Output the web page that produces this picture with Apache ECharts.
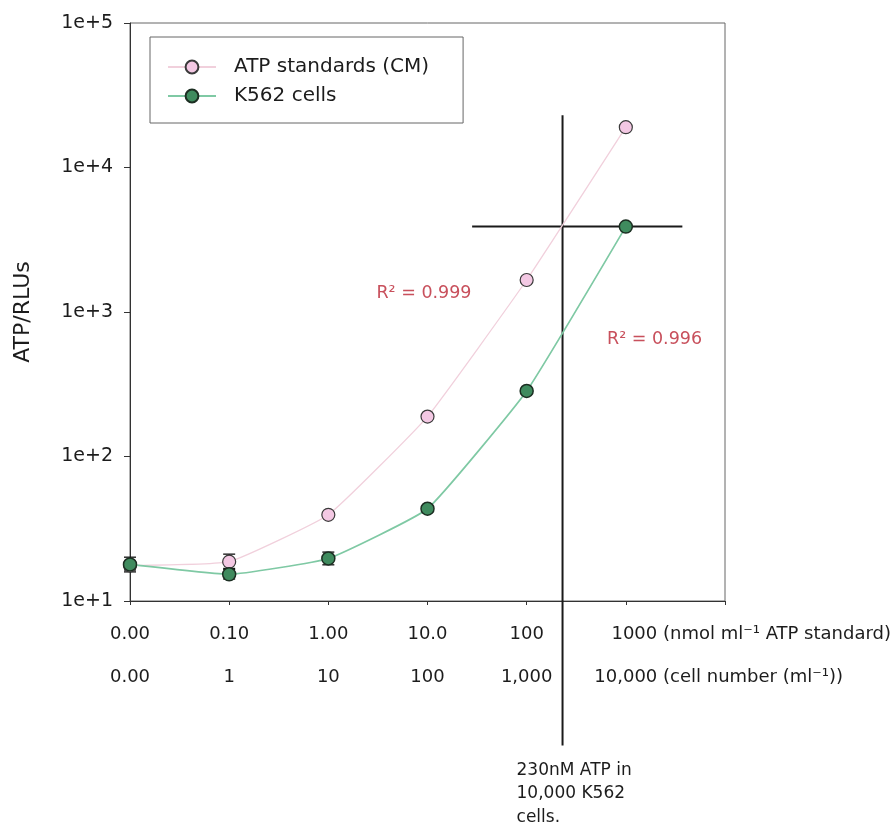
<!DOCTYPE html>
<html>
<head>
<meta charset="utf-8">
<script src="https://cdn.jsdelivr.net/npm/echarts@6/dist/echarts.min.js"></script>
<style>
  html, body { margin: 0; padding: 0; background: #ffffff; }
  #chart { width: 895px; height: 825px; }
</style>
</head>
<body>
<div id="chart"></div>
<script>
// Category labels for the two x scales (ATP standard concentration / cell number)
const atpLabels = ['0.00', '0.10', '1.00', '10.0', '100', '1000'];
const cellLabels = ['0.00', '1', '10', '100', '1,000', '10,000'];
const atpUnit = ' (nmol ml\u207B\u00B9 ATP standard)';
const cellUnit = ' (cell number (ml\u207B\u00B9))';
const yTickLabels = ['1e+1', '1e+2', '1e+3', '1e+4', '1e+5'];

// Luminescence readings (ATP/RLUs)
const atpStandards = [17.6, 18.7, 39.5, 189, 1665, 19000];
const atpStandardsErr = [[16.4, 18.9], [16.5, 21.1], [38.3, 40.8], [183, 195], [1610, 1720], [18300, 19700]];
const k562Cells = [17.9, 15.3, 19.7, 43.5, 284, 3900];
const k562CellsErr = [[15.9, 20.1], [14.2, 16.8], [17.8, 21.8], [41.6, 45.4], [273, 295], [3760, 4040]];

// Read-off for 10,000 K562 cells: 230 nM ATP
const atpInCells = 230;
const crossX = 4 + Math.log10(atpInCells / 100);   // between the 100 and 1000 ticks
const crossSpanY = [1, 23000];
const crossSpanX = [3.45, 5.57];

const r2Values = ['0.999', '0.996'];

const FONT = 'DejaVu Sans';
const INK = '#1c1c1c';

// width of the unit suffix, so the number itself sits on its tick
const ctx = document.createElement('canvas').getContext('2d');
function textWidth(s, size) { ctx.font = size + 'px "' + FONT + '"'; return ctx.measureText(s).width; }
const atpPad = textWidth(atpUnit, 18) + 17;
const cellPad = textWidth(cellUnit, 18);

const richBase = {
  padA: { width: atpPad },
  padC: { width: cellPad }
};

function atpFormatter(v) {
  const i = Math.round(v);
  if (Math.abs(i - v) > 1e-6 || i >= atpLabels.length) return '';
  if (i === atpLabels.length - 1) return '{padA| }' + atpLabels[i] + atpUnit;
  return atpLabels[i];
}
function cellFormatter(v) {
  const i = Math.round(v);
  if (Math.abs(i - v) > 1e-6 || i >= cellLabels.length) return '';
  if (i === cellLabels.length - 1) return '{padC| }' + cellLabels[i] + cellUnit;
  return cellLabels[i];
}

function errorData(errs) { return errs.map((e, i) => [i, e[0], e[1]]); }

function renderErrorBar(params, api) {
  const x = api.value(0);
  const lo = api.coord([x, api.value(1)]);
  const hi = api.coord([x, api.value(2)]);
  const w = 6;
  const st = { stroke: '#111', lineWidth: 1.3 };
  return {
    type: 'group',
    children: [
      { type: 'line', shape: { x1: lo[0], y1: lo[1], x2: hi[0], y2: hi[1] }, style: st },
      { type: 'line', shape: { x1: lo[0] - w, y1: lo[1], x2: lo[0] + w, y2: lo[1] }, style: st },
      { type: 'line', shape: { x1: hi[0] - w, y1: hi[1], x2: hi[0] + w, y2: hi[1] }, style: st }
    ]
  };
}

function renderCross(params, api) {
  const x = api.value(0);
  const y = api.value(1);
  const vTop = api.coord([x, crossSpanY[1]]);
  const vBot = api.coord([x, crossSpanY[0]]);
  const hL = api.coord([crossSpanX[0], y]);
  const hR = api.coord([crossSpanX[1], y]);
  const st = { stroke: '#1a1a1a', lineWidth: 2 };
  return {
    type: 'group',
    children: [
      { type: 'line', shape: { x1: vTop[0], y1: vTop[1], x2: vBot[0], y2: vBot[1] }, style: st },
      { type: 'line', shape: { x1: hL[0], y1: hL[1], x2: hR[0], y2: hR[1] }, style: st },
      {
        type: 'text', x: vBot[0] - 46, y: vBot[1] + 13,
        style: {
          text: atpInCells + 'nM ATP in\n' + cellLabels[cellLabels.length - 1] + ' K562\ncells.',
          fontSize: 17, fontFamily: FONT, fill: INK, lineHeight: 23.5,
          align: 'left', verticalAlign: 'top'
        }
      }
    ]
  };
}

function renderR2(params, api) {
  const p = api.coord([api.value(0), api.value(1)]);
  return {
    type: 'text', x: p[0], y: p[1],
    style: {
      text: 'R\u00B2 = ' + r2Values[params.dataIndex],
      fontSize: 17.5, fontFamily: FONT, fill: '#c8505c',
      align: 'left', verticalAlign: 'middle'
    }
  };
}

const chart = echarts.init(document.getElementById('chart'), null, { renderer: 'canvas' });

chart.setOption({
  animation: false,
  backgroundColor: '#ffffff',
  grid: {
    left: 130, right: 170, top: 23, bottom: 224,
    show: true, borderColor: '#666', borderWidth: 1,
    outerBoundsMode: 'none'
  },
  legend: {
    orient: 'vertical',
    left: 150, top: 37,
    padding: [20, 34, 17, 17],
    itemGap: 9,
    itemWidth: 48, itemHeight: 16,
    borderColor: '#666', borderWidth: 1,
    backgroundColor: '#ffffff',
    selectedMode: false,
    data: ['ATP standards (CM)', 'K562 cells'],
    textStyle: { fontSize: 20, fontFamily: FONT, color: INK, lineHeight: 20, padding: [0, 0, 0, 13] }
  },
  xAxis: [
    {
      type: 'value', min: 0, max: 6, interval: 1, position: 'bottom',
      axisLine: { show: true, onZero: false, lineStyle: { color: '#333', width: 1 } },
      axisTick: { show: true, length: 4, lineStyle: { color: '#333' } },
      splitLine: { show: false },
      axisLabel: {
        margin: 24, fontSize: 18, fontFamily: FONT, color: INK,
        formatter: atpFormatter, rich: richBase
      }
    },
    {
      type: 'value', min: 0, max: 6, interval: 1, position: 'bottom', offset: 43,
      axisLine: { show: false }, axisTick: { show: false }, splitLine: { show: false },
      axisLabel: {
        margin: 24, fontSize: 18, fontFamily: FONT, color: INK,
        formatter: cellFormatter, rich: richBase
      }
    }
  ],
  yAxis: {
    type: 'log', logBase: 10, min: 10, max: 100000,
    axisLine: { show: true, lineStyle: { color: '#333', width: 1 } },
    axisTick: { show: true, inside: false, length: 6, lineStyle: { color: '#333' } },
    minorTick: { show: false },
    splitLine: { show: false },
    axisLabel: {
      margin: 17, fontSize: 19, fontFamily: FONT, color: INK,
      formatter: v => yTickLabels[Math.round(Math.log10(v)) - 1] || ''
    },
    name: 'ATP/RLUs', nameLocation: 'middle', nameRotate: 90, nameGap: 96,
    nameTextStyle: { fontSize: 22, fontFamily: FONT, color: INK }
  },
  series: [
    {
      type: 'custom', z: 1, silent: true,
      data: [[crossX, k562Cells[k562Cells.length - 1]]],
      encode: { x: 0, y: 1 },
      renderItem: renderCross
    },
    {
      type: 'custom', z: 1, silent: true,
      data: errorData(atpStandardsErr), encode: { x: 0, y: [1, 2] },
      renderItem: renderErrorBar
    },
    {
      type: 'custom', z: 1, silent: true,
      data: errorData(k562CellsErr), encode: { x: 0, y: [1, 2] },
      renderItem: renderErrorBar
    },
    {
      name: 'ATP standards (CM)', type: 'line', z: 3,
      data: atpStandards.map((v, i) => [i, v]),
      smooth: 0.12, symbol: 'circle', symbolSize: 13,
      lineStyle: { color: '#f1d0dc', width: 1.3 },
      itemStyle: { color: '#f3c8e3', borderColor: '#3a3a3a', borderWidth: 1.2 },
      emphasis: { disabled: true }
    },
    {
      name: 'K562 cells', type: 'line', z: 4,
      data: k562Cells.map((v, i) => [i, v]),
      smooth: 0.12, symbol: 'circle', symbolSize: 13,
      lineStyle: { color: '#7fc9a4', width: 1.7 },
      itemStyle: { color: '#3f8b5e', borderColor: '#1c2e22', borderWidth: 1.5 },
      emphasis: { disabled: true }
    },
    {
      type: 'custom', z: 5, silent: true,
      data: [[2.485, 1343], [4.81, 646]],
      encode: { x: 0, y: 1 },
      renderItem: renderR2
    }
  ]
});
</script>
</body>
</html>
